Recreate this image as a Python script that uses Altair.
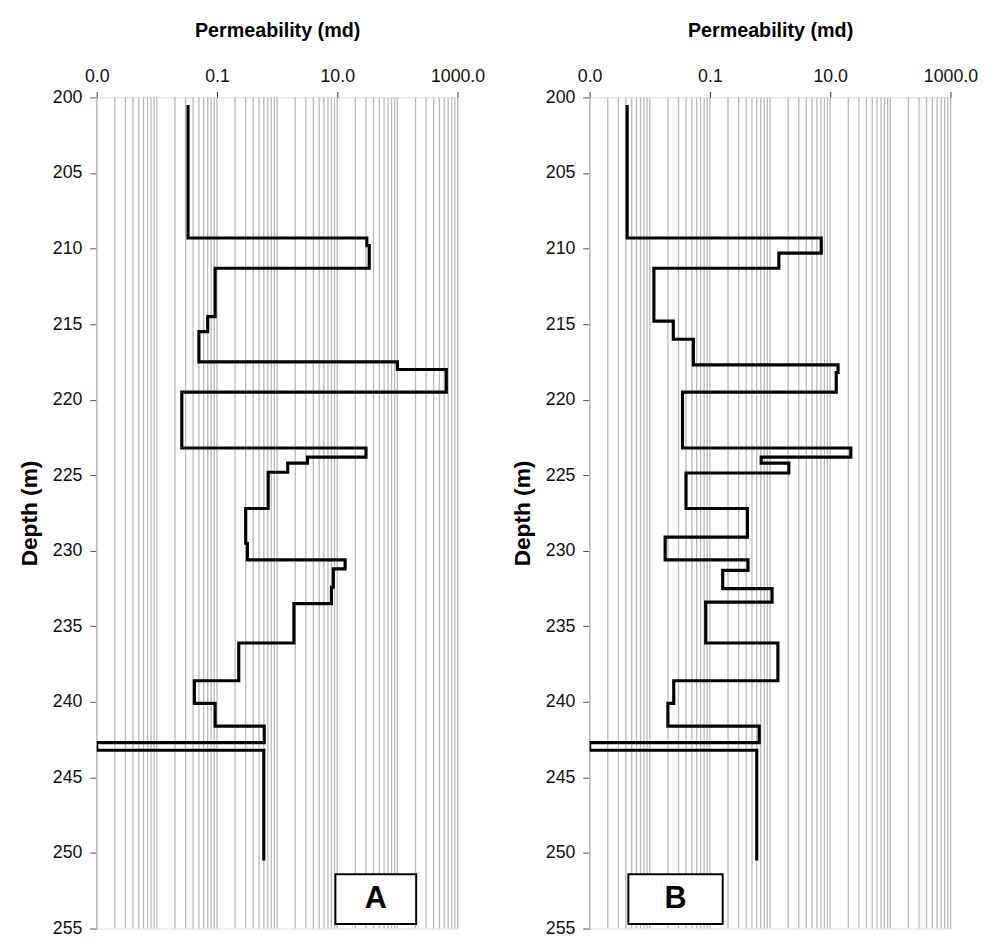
import altair as alt
import pandas as pd

# ---- data ----
A_depth = [200.5, 209.3, 209.8, 211.3, 214.5, 215.5, 217.5, 218.0, 219.5, 223.2, 223.8, 224.2,
           224.8, 227.2, 229.5, 230.6, 231.2, 232.4, 233.5, 236.1, 238.6, 240.1, 241.6, 242.7,
           243.2, 250.5]
A_perm = [0.033, 31, 34, 0.093, 0.07, 0.05, 100, 650, 0.026, 30, 3.2, 1.5, 0.71, 0.30, 0.32,
          13.5, 8.6, 8.0, 1.9, 0.23, 0.042, 0.093, 0.61, 0.001, 0.6]

B_depth = [200.5, 209.3, 210.3, 211.3, 214.8, 216.0, 217.7, 218.2, 219.5, 223.2, 223.8, 224.2,
           224.85, 227.2, 229.1, 230.6, 231.3, 232.5, 233.4, 236.1, 238.6, 240.1, 241.6, 242.7,
           243.2, 250.5]
B_perm = [0.0042, 7.1, 1.4, 0.0117, 0.0246, 0.053, 13.5, 12.6, 0.035, 22, 0.71, 2.05, 0.04,
          0.42, 0.018, 0.43, 0.163, 1.08, 0.085, 1.35, 0.025, 0.02, 0.66, 0.001, 0.6]

x_label_values = [0.001, 0.1, 10, 1000]
y_tick_values = list(range(200, 256, 5))
grid_values = [k * 10.0 ** e for e in range(-3, 3) for k in range(1, 10)] + [1000.0]

panel_labels = ["A", "B"]
box_x = [[9.3, 205.0], [0.0044, 0.163]]
box_y = [251.4, 254.7]

X_DOMAIN = [0.001, 1000]
Y_DOMAIN = [200, 255]
FONT = "Liberation Sans"


def steps(depth, perm):
    rows = []
    i = 0
    for k, v in enumerate(perm):
        rows.append({"idx": i, "depth": depth[k], "perm": v}); i += 1
        rows.append({"idx": i, "depth": depth[k + 1], "perm": v}); i += 1
    return pd.DataFrame(rows)


def panel(depth, perm, label, bx):
    xscale = alt.Scale(type="log", domain=X_DOMAIN, nice=False)
    yscale = alt.Scale(domain=Y_DOMAIN, reverse=True, nice=False, zero=False)
    xaxis = alt.Axis(orient="top", values=x_label_values, format=".1f", grid=False,
                     domain=False, tickSize=6, tickColor="#333", labelFontSize=18,
                     labelPadding=6, labelFlush=False, labelColor="#111",
                     title="Permeability (md)", titleFontSize=20, titleFontWeight="bold",
                     titlePadding=28, titleColor="black")
    yaxis = alt.Axis(values=y_tick_values, grid=False, domain=False, tickSize=7,
                     tickColor="#555", labelFontSize=18, labelPadding=8, labelColor="#111",
                     title="Depth (m)", titleFontSize=23, titleFontWeight="bold",
                     titlePadding=11, titleColor="black")

    grid = alt.Chart(pd.DataFrame({"g": grid_values})).mark_rule(
        color="#b9b9b9", strokeWidth=1.3
    ).encode(x=alt.X("g:Q", scale=xscale, axis=xaxis))

    line = alt.Chart(steps(depth, perm)).mark_line(
        color="black", strokeWidth=3.2, strokeJoin="miter", clip=True
    ).encode(
        x=alt.X("perm:Q", scale=xscale, axis=xaxis),
        y=alt.Y("depth:Q", scale=yscale, axis=yaxis),
        order="idx:Q",
    )

    bdf = pd.DataFrame({"x1": [bx[0]], "x2": [bx[1]], "y1": [box_y[0]], "y2": [box_y[1]],
                        "xc": [(bx[0] * bx[1]) ** 0.5], "yc": [(box_y[0] + box_y[1]) / 2],
                        "t": [label]})
    box = alt.Chart(bdf).mark_rect(fill="white", stroke="black", strokeWidth=2).encode(
        x=alt.X("x1:Q", scale=xscale, axis=xaxis), x2="x2:Q",
        y=alt.Y("y1:Q", scale=yscale, axis=yaxis), y2="y2:Q",
    )
    txt = alt.Chart(bdf).mark_text(fontSize=31, fontWeight="bold", color="black",
                                   baseline="middle", align="center", font=FONT).encode(
        x=alt.X("xc:Q", scale=xscale, axis=xaxis),
        y=alt.Y("yc:Q", scale=yscale, axis=yaxis),
        text="t:N",
    )
    return alt.layer(grid, line, box, txt).properties(width=366, height=843)


chart = alt.hconcat(
    panel(A_depth, A_perm, panel_labels[0], box_x[0]),
    panel(B_depth, B_perm, panel_labels[1], box_x[1]),
    spacing=134, bounds="flush",
).properties(
    padding={"left": 10, "top": 5, "right": 5, "bottom": 5}
).configure_view(
    stroke="black", strokeWidth=1.8
).configure(font=FONT, background="white")

chart.save("out.html", embed_options={"renderer": "svg", "actions": False})
